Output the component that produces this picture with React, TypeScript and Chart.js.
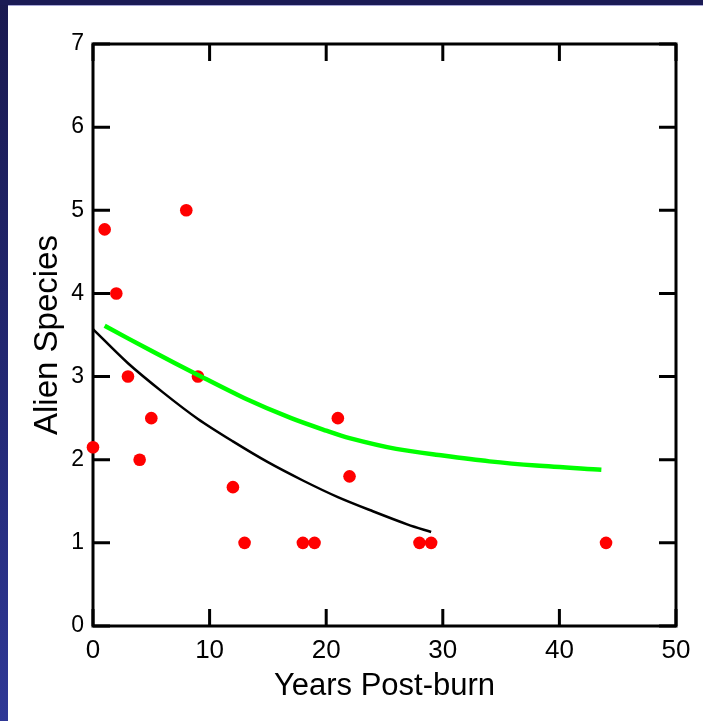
import React, { useEffect, useRef } from "react";
import { Chart, registerables } from "chart.js";

Chart.register(...registerables);

// Observed data: years post-burn vs number of alien species
const yearsObserved = [0, 1, 2, 3, 4, 5, 8, 9, 12, 13, 18, 19, 21, 22, 28, 29, 44];
const alienSpecies = [2.15, 4.77, 4.0, 3.0, 2.0, 2.5, 5.0, 3.0, 1.67, 1.0, 1.0, 1.0, 2.5, 1.8, 1.0, 1.0, 1.0];

// Black fitted curve
const blackFitYears = [0, 3, 6, 9, 12, 15, 18, 21, 24, 27, 29];
const blackFitValues = [3.57, 3.16, 2.81, 2.49, 2.22, 1.97, 1.75, 1.55, 1.38, 1.22, 1.13];

// Green fitted curve
const greenFitYears = [1, 5, 9, 13, 17, 20, 22, 26, 30, 34, 38, 43.6];
const greenFitValues = [3.61, 3.31, 3.02, 2.74, 2.5, 2.35, 2.26, 2.13, 2.05, 1.98, 1.93, 1.88];

const xTicks = [0, 10, 20, 30, 40, 50];
const yTicks = [0, 1, 2, 3, 4, 5, 6, 7];

const xTitle = "Years Post-burn";
const yTitle = "Alien Species";

const FONT = "'Liberation Sans', Arial, Helvetica, sans-serif";

const framePlugin = {
  id: "frameTicks",
  beforeDatasetsDraw(chart: any) {
    const { ctx, chartArea } = chart;
    const xs = chart.scales.x;
    const ys = chart.scales.y;
    const { left, right, top, bottom } = chartArea;
    const tl = 17;
    ctx.save();
    ctx.strokeStyle = "#000";
    ctx.lineWidth = 3;
    ctx.lineCap = "butt";
    ctx.beginPath();
    ctx.rect(left, top, right - left, bottom - top);
    ctx.stroke();
    ctx.beginPath();
    xTicks.forEach((v) => {
      const px = xs.getPixelForValue(v);
      ctx.moveTo(px, bottom);
      ctx.lineTo(px, bottom - tl);
      ctx.moveTo(px, top);
      ctx.lineTo(px, top + tl);
    });
    yTicks.forEach((v) => {
      const py = ys.getPixelForValue(v);
      ctx.moveTo(left, py);
      ctx.lineTo(left + tl, py);
      ctx.moveTo(right, py);
      ctx.lineTo(right - tl, py);
    });
    ctx.stroke();
    ctx.restore();
  },
};

export default function App() {
  const canvasRef = useRef<HTMLCanvasElement | null>(null);

  useEffect(() => {
    if (!canvasRef.current) return;
    const chart = new Chart(canvasRef.current, {
      type: "scatter",
      data: {
        datasets: [
          {
            label: "fit2",
            data: greenFitYears.map((x, i) => ({ x, y: greenFitValues[i] })),
            showLine: true,
            borderColor: "#00ff00",
            borderWidth: 4.5,
            pointRadius: 0,
            tension: 0.3,
            clip: false,
          } as any,
          {
            label: "fit1",
            data: blackFitYears.map((x, i) => ({ x, y: blackFitValues[i] })),
            showLine: true,
            borderColor: "#000000",
            borderWidth: 2.5,
            pointRadius: 0,
            tension: 0.3,
            clip: false,
          } as any,
          {
            label: "observed",
            data: yearsObserved.map((x, i) => ({ x, y: alienSpecies[i] })),
            backgroundColor: "#ff0000",
            borderColor: "#ff0000",
            borderWidth: 0,
            pointRadius: 6.3,
            clip: false,
          } as any,
        ],
      },
      options: {
        animation: false,
        responsive: false,
        maintainAspectRatio: false,
        layout: { padding: { left: 0, top: 44, right: 27, bottom: 0 } },
        plugins: {
          legend: { display: false },
          tooltip: { enabled: false },
        },
        scales: {
          x: {
            type: "linear",
            min: 0,
            max: 50,
            afterBuildTicks(scale: any) {
              scale.ticks = xTicks.map((v) => ({ value: v }));
            },
            afterFit(scale: any) {
              scale.height = 95;
            },
            grid: { display: false, drawTicks: false },
            border: { display: false },
            ticks: {
              color: "#000",
              padding: 9,
              font: { family: FONT, size: 26 },
              maxRotation: 0,
            },
            title: {
              display: true,
              text: xTitle,
              color: "#000",
              font: { family: FONT, size: 31 },
              padding: { top: 0, bottom: 16 },
            },
          },
          y: {
            type: "linear",
            min: 0,
            max: 7,
            afterBuildTicks(scale: any) {
              scale.ticks = yTicks.map((v) => ({ value: v }));
            },
            afterFit(scale: any) {
              scale.width = 93;
            },
            grid: { display: false, drawTicks: false },
            border: { display: false },
            ticks: {
              color: "#000",
              padding: 9,
              font: { family: FONT, size: 23 },
            },
            title: {
              display: true,
              text: yTitle,
              color: "#000",
              font: { family: FONT, size: 33 },
              padding: { top: 28, bottom: 0 },
            },
          },
        },
      },
      plugins: [framePlugin],
    });
    return () => chart.destroy();
  }, []);

  return (
    <div
      style={{
        position: "fixed",
        left: 0,
        top: 0,
        width: 703,
        height: 721,
        background: "linear-gradient(to bottom, #1a1a50 0%, #242a78 60%, #2f3896 100%)",
        overflow: "hidden",
      }}
    >
      <div style={{ position: "absolute", left: 0, top: 0, width: 703, height: 5, background: "#1b1b55" }} />
      <div style={{ position: "absolute", left: 8, top: 5, right: 0, height: 1, background: "#a8a8d8" }} />
      <div style={{ position: "absolute", left: 8, top: 6, right: 0, bottom: 0, background: "#ffffff" }} />
      <canvas
        ref={canvasRef}
        width={703}
        height={721}
        style={{ position: "absolute", left: 0, top: 0, width: 703, height: 721 }}
      />
    </div>
  );
}
